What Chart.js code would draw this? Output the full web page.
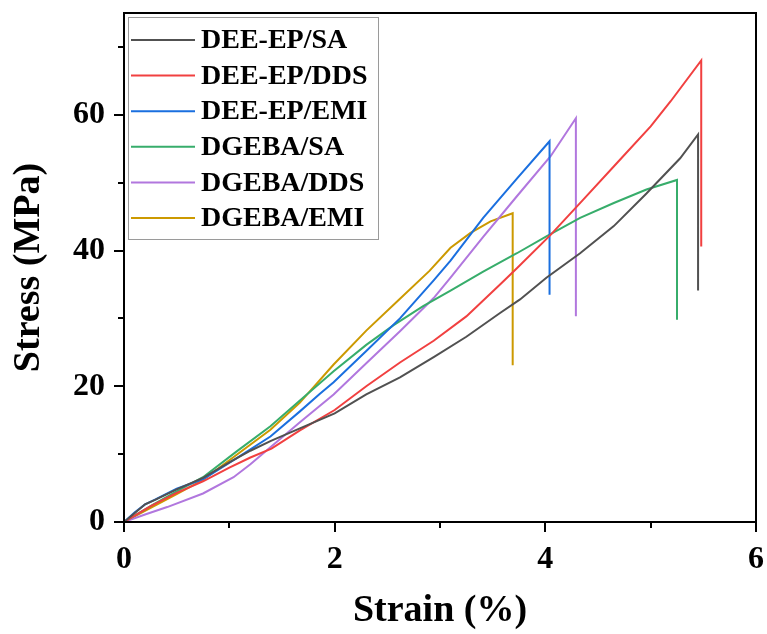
<!DOCTYPE html>
<html>
<head>
<meta charset="utf-8">
<title>Stress-Strain</title>
<script src="https://cdn.jsdelivr.net/npm/chart.js@4.4.0/dist/chart.umd.min.js"></script>
<style>
    html, body { margin: 0; padding: 0; background: #fff; }
    #wrap { width: 767px; height: 634px; }
</style>
</head>
<body>
<div id="wrap"><canvas id="stressChart" width="767" height="634"></canvas></div>
<script>
// --- DATA ---
const seriesNames = ['DEE-EP/SA', 'DEE-EP/DDS', 'DEE-EP/EMI', 'DGEBA/SA', 'DGEBA/DDS', 'DGEBA/EMI'];
const seriesColors = ['#515151', '#F14040', '#1A6FDF', '#37AD6B', '#B177DE', '#CC9900'];

const deeSaStrain = [0, 0.1, 0.2, 0.3, 0.5, 0.75, 1.0, 1.2, 1.4, 1.67, 2.0, 2.3, 2.62, 2.94, 3.25, 3.57, 3.76, 4.01, 4.33, 4.65, 4.96, 5.28, 5.45, 5.45];
const deeSaStress = [0, 1.3, 2.6, 3.3, 4.8, 6.5, 8.8, 10.5, 12.0, 13.8, 16.0, 18.8, 21.3, 24.3, 27.3, 30.8, 32.8, 36.0, 39.6, 43.6, 48.4, 53.6, 57.1, 34.1];

const deeDdsStrain = [0, 0.25, 0.5, 0.75, 1.0, 1.2, 1.4, 1.67, 2.0, 2.3, 2.62, 2.94, 3.25, 3.57, 3.73, 4.05, 4.36, 4.68, 5.0, 5.19, 5.48, 5.48];
const deeDdsStress = [0, 2.3, 4.3, 6.0, 8.0, 9.5, 10.8, 13.5, 16.5, 20.0, 23.5, 26.7, 30.3, 35.0, 37.4, 42.3, 47.5, 52.9, 58.3, 62.0, 68.0, 40.6];

const deeEmiStrain = [0, 0.1, 0.2, 0.28, 0.5, 0.75, 1.07, 1.39, 1.67, 1.86, 1.99, 2.3, 2.62, 2.94, 3.1, 3.41, 3.73, 4.04, 4.04];
const deeEmiStress = [0, 1.4, 2.6, 3.2, 4.9, 6.3, 9.4, 12.6, 16.3, 18.9, 20.6, 25.2, 30.0, 35.6, 38.5, 44.8, 50.6, 56.1, 33.5];

const dgSaStrain = [0, 0.28, 0.5, 0.75, 1.07, 1.39, 1.67, 1.99, 2.3, 2.56, 2.84, 3.1, 3.41, 3.73, 4.01, 4.33, 4.65, 4.96, 5.25, 5.25];
const dgSaStress = [0, 2.6, 4.5, 6.6, 10.4, 14.1, 17.9, 22.2, 26.1, 29.0, 31.8, 34.1, 36.9, 39.6, 42.1, 44.8, 47.0, 49.0, 50.4, 29.8];

const dgDdsStrain = [0, 0.2, 0.41, 0.75, 1.04, 1.2, 1.39, 1.67, 1.99, 2.3, 2.62, 2.94, 3.1, 3.41, 3.73, 4.05, 4.29, 4.29];
const dgDdsStress = [0, 1.1, 2.2, 4.2, 6.6, 8.5, 11.0, 14.7, 18.8, 23.4, 28.1, 33.0, 36.0, 42.0, 48.0, 53.9, 59.5, 30.3];

const dgEmiStrain = [0, 0.28, 0.5, 0.75, 1.07, 1.39, 1.67, 1.99, 2.3, 2.6, 2.9, 3.1, 3.29, 3.48, 3.69, 3.69];
const dgEmiStress = [0, 2.3, 4.1, 6.2, 9.9, 13.6, 17.6, 23.2, 28.2, 32.6, 37.0, 40.4, 42.6, 44.3, 45.5, 23.1];

// tick values
const xMajorTicks = [0, 2, 4, 6];
const xMinorTicks = [1, 3, 5];
const yMajorTicks = [0, 20, 40, 60];
const yMinorTicks = [10, 30, 50, 70];

const serifFont = "'Liberation Serif', 'Times New Roman', serif";

function toPoints(xs, ys) {
    return xs.map(function(v, i) { return { x: v, y: ys[i] }; });
}

const allStrain = [deeSaStrain, deeDdsStrain, deeEmiStrain, dgSaStrain, dgDdsStrain, dgEmiStrain];
const allStress = [deeSaStress, deeDdsStress, deeEmiStress, dgSaStress, dgDdsStress, dgEmiStress];

// Box around the plot + outward ticks (major long, minor short)
const frameTicks = {
    id: 'frameTicks',
    afterDraw(chart) {
        const ctx = chart.ctx;
        const a = chart.chartArea;
        const x = chart.scales.x;
        const y = chart.scales.y;
        ctx.save();
        ctx.strokeStyle = '#000';
        ctx.lineWidth = 2;
        ctx.strokeRect(a.left, a.top, a.right - a.left, a.bottom - a.top);
        ctx.beginPath();
        xMajorTicks.forEach(function(v) {
            const px = Math.round(x.getPixelForValue(v));
            ctx.moveTo(px, a.bottom); ctx.lineTo(px, a.bottom + 10);
        });
        xMinorTicks.forEach(function(v) {
            const px = Math.round(x.getPixelForValue(v));
            ctx.moveTo(px, a.bottom); ctx.lineTo(px, a.bottom + 6);
        });
        yMajorTicks.forEach(function(v) {
            const py = Math.round(y.getPixelForValue(v));
            ctx.moveTo(a.left, py); ctx.lineTo(a.left - 10, py);
        });
        yMinorTicks.forEach(function(v) {
            const py = Math.round(y.getPixelForValue(v));
            ctx.moveTo(a.left, py); ctx.lineTo(a.left - 6, py);
        });
        ctx.stroke();
        ctx.restore();
    }
};

// Legend drawn inside the plot, top-left
const boxLegend = {
    id: 'boxLegend',
    afterDraw(chart) {
        const ctx = chart.ctx;
        const left = 128, top = 17, w = 250, h = 222;
        ctx.save();
        ctx.fillStyle = '#fff';
        ctx.fillRect(left, top, w, h);
        ctx.strokeStyle = '#9a9a9a';
        ctx.lineWidth = 1;
        ctx.strokeRect(left + 0.5, top + 0.5, w, h);
        ctx.font = 'bold 28px ' + serifFont;
        ctx.textBaseline = 'middle';
        ctx.fillStyle = '#000';
        chart.data.datasets.forEach(function(ds, i) {
            const cy = 40 + i * 35.6;
            ctx.strokeStyle = ds.borderColor;
            ctx.lineWidth = 2;
            ctx.beginPath();
            ctx.moveTo(131, cy); ctx.lineTo(195, cy);
            ctx.stroke();
            ctx.fillText(ds.label, 201, cy + 1);
        });
        ctx.restore();
    }
};

document.addEventListener('DOMContentLoaded', function() {
    const ctx = document.getElementById('stressChart');

    const datasets = seriesNames.map(function(name, i) {
        return {
            label: name,
            data: toPoints(allStrain[i], allStress[i]),
            borderColor: seriesColors[i],
            backgroundColor: seriesColors[i],
            borderWidth: 2,
            showLine: true,
            pointRadius: 0,
            tension: 0
        };
    });

    new Chart(ctx.getContext('2d'), {
        type: 'scatter',
        data: { datasets: datasets },
        options: {
            responsive: false,
            animation: false,
            devicePixelRatio: 1,
            layout: { padding: { top: 13, right: 11, left: 0, bottom: 0 } },
            plugins: {
                legend: { display: false },
                tooltip: { enabled: false }
            },
            scales: {
                x: {
                    type: 'linear',
                    min: 0,
                    max: 6,
                    afterFit: function(scale) {
                        scale.height = 112;
                        scale.paddingLeft = 0;
                        scale.paddingRight = 0;
                    },
                    grid: { display: false, drawTicks: false },
                    border: { display: false },
                    ticks: {
                        stepSize: 1,
                        padding: 19,
                        color: '#000',
                        font: { family: serifFont, size: 32, weight: 'bold' },
                        callback: function(v) { return xMajorTicks.includes(v) ? v : ''; }
                    },
                    title: {
                        display: true,
                        text: 'Strain (%)',
                        color: '#000',
                        padding: { top: 0, bottom: 0 },
                        font: { family: serifFont, size: 38, weight: 'bold' }
                    }
                },
                y: {
                    type: 'linear',
                    min: 0,
                    max: 75,
                    afterFit: function(scale) {
                        scale.width = 124;
                        scale.paddingTop = 0;
                        scale.paddingBottom = 0;
                    },
                    grid: { display: false, drawTicks: false },
                    border: { display: false },
                    ticks: {
                        stepSize: 10,
                        padding: 19,
                        color: '#000',
                        font: { family: serifFont, size: 32, weight: 'bold' },
                        callback: function(v) { return yMajorTicks.includes(v) ? v : ''; }
                    },
                    title: {
                        display: true,
                        text: 'Stress (MPa)',
                        color: '#000',
                        padding: { top: 6, bottom: 0 },
                        font: { family: serifFont, size: 38, weight: 'bold' }
                    }
                }
            }
        },
        plugins: [frameTicks, boxLegend]
    });
});
</script>
</body>
</html>
